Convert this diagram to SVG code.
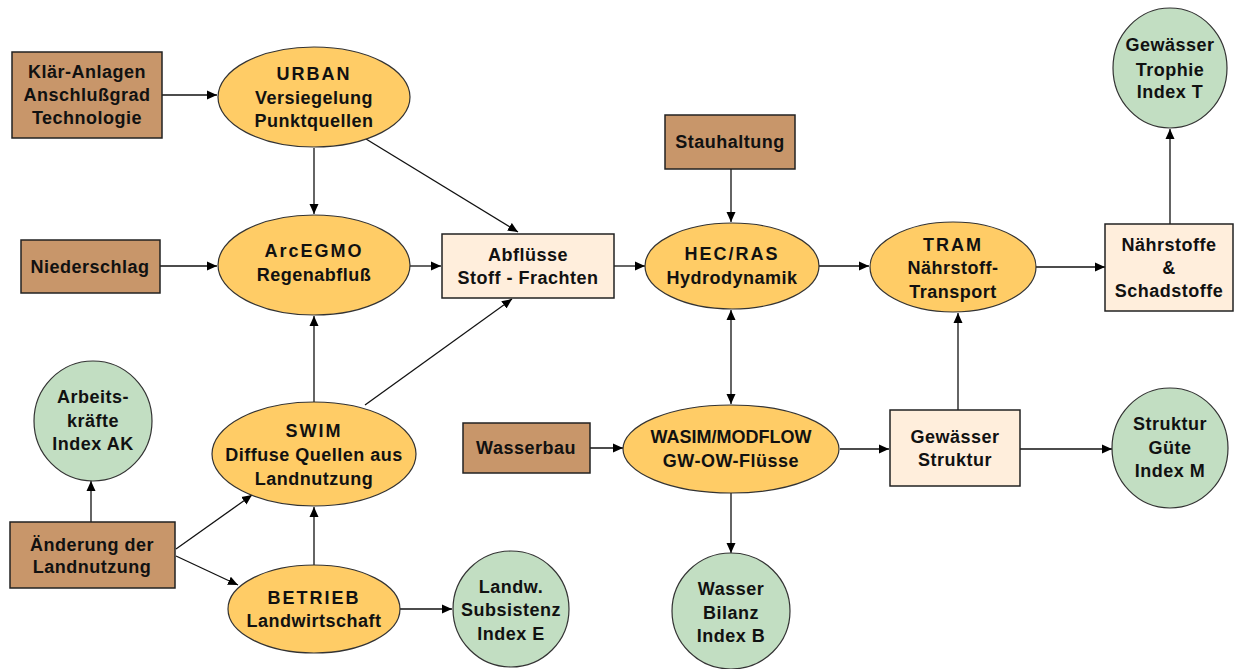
<svg xmlns="http://www.w3.org/2000/svg" width="1238" height="669" viewBox="0 0 1238 669">
<defs>
<marker id="ah" viewBox="0 0 10 10" refX="10" refY="5" markerWidth="10" markerHeight="10" markerUnits="userSpaceOnUse" orient="auto-start-reverse">
<path d="M0,0.5 L10,5 L0,9.5 z" fill="#000"/>
</marker>
<style>
.in{fill:#C8966A;stroke:#222;stroke-width:1.5}
.md{fill:#FFCC66;stroke:#333;stroke-width:1.2}
.out{fill:#C2DEC2;stroke:#333;stroke-width:1.2}
.mid{fill:#FFEEDC;stroke:#222;stroke-width:1.5}
text{font-family:"Liberation Sans",Arial,sans-serif;font-weight:bold;font-size:18px;letter-spacing:0.5px;fill:#111;text-anchor:middle;dominant-baseline:central}
.t{letter-spacing:2px}
.c{stroke:#111;stroke-width:1.3;fill:none;marker-end:url(#ah)}
.d{stroke:#111;stroke-width:1.3;fill:none;marker-end:url(#ah);marker-start:url(#ah)}
</style>
</defs>
<rect width="1238" height="669" fill="#fff"/>
<g id="connectors">
<line class="c" x1="162" y1="95" x2="217" y2="95"/>
<line class="c" x1="314" y1="148" x2="314" y2="214"/>
<line class="c" x1="160" y1="266" x2="217" y2="266"/>
<line class="c" x1="410" y1="266" x2="441" y2="266"/>
<line class="c" x1="366" y1="139" x2="518" y2="232"/>
<line class="c" x1="365" y1="405" x2="512" y2="299"/>
<line class="c" x1="614" y1="266" x2="645" y2="266"/>
<line class="c" x1="731" y1="169" x2="731" y2="222"/>
<line class="d" x1="731" y1="310" x2="731" y2="404"/>
<line class="c" x1="818" y1="266" x2="869" y2="266"/>
<line class="c" x1="1036" y1="267" x2="1105" y2="267"/>
<line class="c" x1="1170" y1="224" x2="1170" y2="129"/>
<line class="c" x1="91" y1="522" x2="91" y2="481"/>
<line class="c" x1="176" y1="549" x2="252" y2="495"/>
<line class="c" x1="176" y1="556" x2="238" y2="585"/>
<line class="c" x1="314" y1="402" x2="314" y2="316"/>
<line class="c" x1="314" y1="565" x2="314" y2="507"/>
<line class="c" x1="400" y1="609" x2="452" y2="609"/>
<line class="c" x1="590" y1="448" x2="623" y2="448"/>
<line class="c" x1="840" y1="449" x2="889" y2="449"/>
<line class="c" x1="958" y1="410" x2="958" y2="313"/>
<line class="c" x1="1020" y1="449" x2="1112" y2="449"/>
<line class="c" x1="731" y1="493" x2="731" y2="553"/>
</g>
<g id="klaer"><rect class="in" x="12" y="52" width="150" height="86"/><text x="87" y="72">Klär-Anlagen</text><text x="87" y="95">Anschlußgrad</text><text x="87" y="118">Technologie</text></g>
<g id="urban"><ellipse class="md" cx="314" cy="97" rx="96" ry="50"/><text class="t" x="314" y="74">URBAN</text><text x="314" y="98">Versiegelung</text><text x="314" y="121">Punktquellen</text></g>
<g id="niederschlag"><rect class="in" x="21" y="240" width="139" height="53"/><text x="90" y="267">Niederschlag</text></g>
<g id="arcegmo"><ellipse class="md" cx="314" cy="265" rx="96" ry="50"/><text class="t" x="314" y="251">ArcEGMO</text><text x="314" y="275">Regenabfluß</text></g>
<g id="abfluesse"><rect class="mid" x="442" y="234" width="172" height="64"/><text x="528" y="255">Abflüsse</text><text x="528" y="278">Stoff - Frachten</text></g>
<g id="stauhaltung"><rect class="in" x="665" y="115" width="130" height="54"/><text x="730" y="142">Stauhaltung</text></g>
<g id="hecras"><ellipse class="md" cx="732" cy="266" rx="87" ry="43"/><text class="t" x="732" y="254">HEC/RAS</text><text x="732" y="278">Hydrodynamik</text></g>
<g id="tram"><ellipse class="md" cx="953" cy="267" rx="83" ry="45"/><text class="t" x="953" y="245">TRAM</text><text x="953" y="268">Nährstoff-</text><text x="953" y="292">Transport</text></g>
<g id="naehrstoffe"><rect class="mid" x="1105" y="224" width="128" height="87"/><text x="1169" y="245">Nährstoffe</text><text x="1169" y="268">&amp;</text><text x="1169" y="291">Schadstoffe</text></g>
<g id="trophie"><ellipse class="out" cx="1170" cy="68" rx="57" ry="60"/><text x="1170" y="45">Gewässer</text><text x="1170" y="70">Trophie</text><text x="1170" y="92">Index T</text></g>
<g id="arbeits"><ellipse class="out" cx="93" cy="421" rx="59" ry="60"/><text x="93" y="397">Arbeits-</text><text x="93" y="421">kräfte</text><text x="93" y="444">Index AK</text></g>
<g id="aenderung"><rect class="in" x="10" y="522" width="165" height="66"/><text x="92" y="545">Änderung der</text><text x="92" y="567">Landnutzung</text></g>
<g id="swim"><ellipse class="md" cx="314" cy="454" rx="102" ry="52"/><text class="t" x="314" y="431">SWIM</text><text x="314" y="455">Diffuse Quellen aus</text><text x="314" y="479">Landnutzung</text></g>
<g id="betrieb"><ellipse class="md" cx="314" cy="609" rx="86" ry="44"/><text class="t" x="314" y="598">BETRIEB</text><text x="314" y="621">Landwirtschaft</text></g>
<g id="landw"><ellipse class="out" cx="511" cy="609" rx="58" ry="58"/><text x="511" y="587">Landw.</text><text x="511" y="610">Subsistenz</text><text x="511" y="634">Index E</text></g>
<g id="wasserbau"><rect class="in" x="463" y="423" width="127" height="50"/><text x="526" y="448">Wasserbau</text></g>
<g id="wasim"><ellipse class="md" cx="731" cy="449" rx="108" ry="44"/><text x="731" y="437" style="letter-spacing:0">WASIM/MODFLOW</text><text x="731" y="461">GW-OW-Flüsse</text></g>
<g id="struktur"><rect class="mid" x="890" y="410" width="130" height="76"/><text x="955" y="437">Gewässer</text><text x="955" y="460">Struktur</text></g>
<g id="guete"><ellipse class="out" cx="1170" cy="448" rx="58" ry="60"/><text x="1170" y="424">Struktur</text><text x="1170" y="448">Güte</text><text x="1170" y="471">Index M</text></g>
<g id="bilanz"><ellipse class="out" cx="731" cy="611" rx="59" ry="58"/><text x="731" y="589">Wasser</text><text x="731" y="613">Bilanz</text><text x="731" y="636">Index B</text></g>
</svg>
